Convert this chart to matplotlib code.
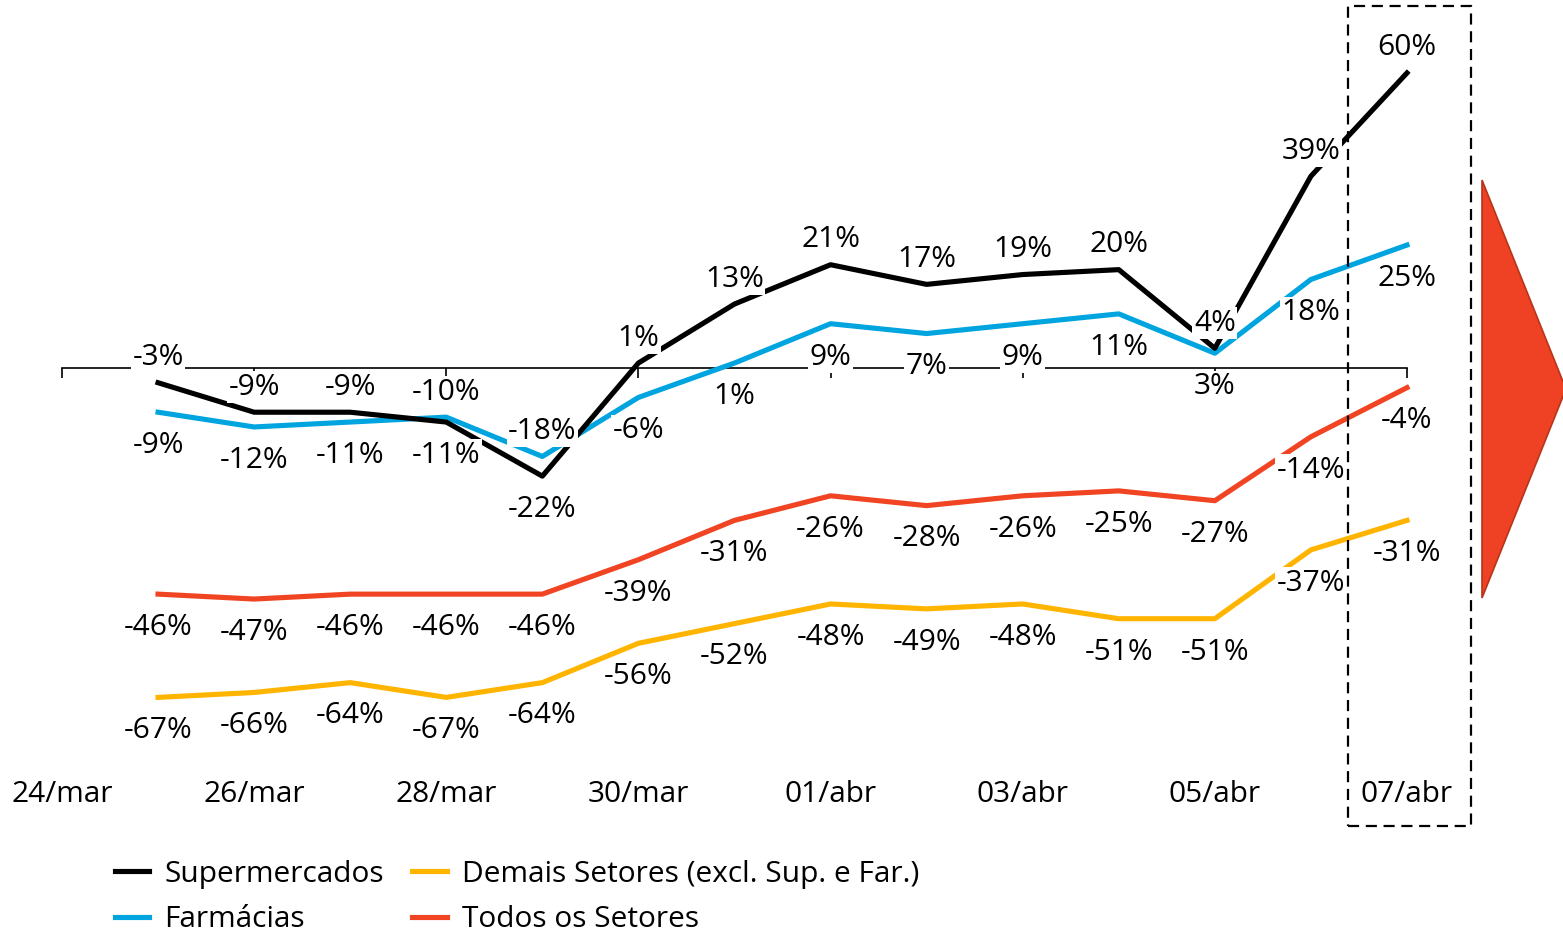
import matplotlib.pyplot as plt
from matplotlib.patches import Polygon, Rectangle

plt.rcParams['font.family'] = ['Open Sans', 'DejaVu Sans']

# days 24/mar .. 07/abr, data starts on 25/mar
days = ["24/mar", "25/mar", "26/mar", "27/mar", "28/mar", "29/mar", "30/mar", "31/mar",
        "01/abr", "02/abr", "03/abr", "04/abr", "05/abr", "06/abr", "07/abr"]
x_data = list(range(1, 15))

supermercados = [-3, -9, -9, -11, -22, 1, 13, 21, 17, 19, 20, 4, 39, 60]
farmacias = [-9, -12, -11, -10, -18, -6, 1, 9, 7, 9, 11, 3, 18, 25]
demais = [-67, -66, -64, -67, -64, -56, -52, -48, -49, -48, -51, -51, -37, -31]
todos = [-46, -47, -46, -46, -46, -39, -31, -26, -28, -26, -25, -27, -14, -4]

c_black = "#000000"
c_blue = "#00A5E0"
c_yellow = "#FFB400"
c_red = "#F04423"

fig = plt.figure(figsize=(15.63, 9.36), dpi=100)
ax = fig.add_axes([0, 0.1774, 1, 0.8226])
ax.set_xlim(-0.645, 15.624)
ax.set_ylim(-81.76, 74.84)

lw = 3.7
ax.plot(x_data, supermercados, color=c_black, lw=lw, label="Supermercados", zorder=4)
ax.plot(x_data, farmacias, color=c_blue, lw=lw, label="Farmácias", zorder=3)
ax.plot(x_data, demais, color=c_yellow, lw=lw, label="Demais Setores (excl. Sup. e Far.)", zorder=3)
ax.plot(x_data, todos, color=c_red, lw=lw, label="Todos os Setores", zorder=3)

fs = 21.5
box = dict(facecolor="white", edgecolor="none", pad=1)


def label(x, y, up):
    # value labels: above or below the point, white box behind
    off = 18 if up else -24
    ax.annotate(f"{y}%", (x, y), xytext=(0, off), textcoords="offset points",
                ha="center", va="center", fontsize=fs, bbox=box, zorder=6)


for x, s, f in zip(x_data, supermercados, farmacias):
    label(x, s, s >= f)
    label(x, f, f > s)
for x, d, t in zip(x_data, demais, todos):
    label(x, d, False)
    label(x, t, False)

# main axis: only tick labels at the bottom
for sp in ax.spines.values():
    sp.set_visible(False)
ax.set_yticks([])
ax.set_xticks(range(0, 15, 2))
ax.set_xticklabels(days[::2], fontsize=fs)
ax.tick_params(axis="x", length=0, pad=7)

# zero line with ticks
sec = ax.secondary_xaxis(0, transform=ax.transData)
sec.spines["bottom"].set_bounds(0, 14)
sec.spines["bottom"].set_linewidth(1.2)
sec.set_xticks(range(0, 15, 2))
sec.set_xticklabels([])
sec.tick_params(axis="x", direction="out", length=7, width=1.2)
sec.set_zorder(1)

# dashed highlight box around last day
W, H = 1563, 936
fig.patches.append(Rectangle((1348 / W, (H - 826) / H), 123 / W, 820 / H,
                             transform=fig.transFigure, fill=False, edgecolor="black",
                             lw=1.6, ls=(0, (5, 3)), zorder=10))

# red arrow on the right
fig.patches.append(Polygon([(1482 / W, (H - 180) / H), (1566 / W, (H - 389) / H),
                            (1482 / W, (H - 598) / H)], closed=True,
                           transform=fig.transFigure, facecolor="#EF4123",
                           edgecolor="#B8341A", lw=1.2))

fig.legend(loc="center left", bbox_to_anchor=(0.0736, 0.0415), ncol=2, frameon=False,
           fontsize=fs, handlelength=1.15, handletextpad=0.5, columnspacing=0.95,
           labelspacing=0.55, borderpad=0, borderaxespad=0)

fig.savefig("out.png", dpi=100, facecolor="w")
